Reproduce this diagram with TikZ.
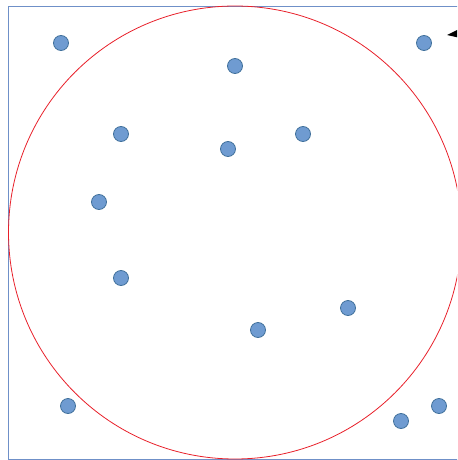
\documentclass[tikz,border=0pt]{standalone}
\definecolor{dotfill}{HTML}{6F9BD1}
\definecolor{dotline}{HTML}{41719C}
\definecolor{boxline}{HTML}{6F90C8}
\definecolor{ringline}{HTML}{E8202A}
\begin{document}
\begin{tikzpicture}[x=0.75pt,y=-0.75pt,
  dot/.style={circle,fill=dotfill,draw=dotline,line width=0.6pt,minimum size=11.25pt,inner sep=0pt}]
\useasboundingbox (0,0) rectangle (457,460);
\begin{scope}
\clip (0,0) rectangle (457,460);
\draw[boxline,line width=0.6pt] (8,6) rectangle (462,459);
\draw[ringline,line width=0.6pt] (235,232.5) circle[radius=226.5*0.75pt];
\fill[black] (447,35) -- (458,29.5) -- (458,37.5) -- cycle;
\end{scope}
\node[dot] (p1) at (61,43) {};
\node[dot] (p2) at (235,66) {};
\node[dot] (p3) at (424,43) {};
\node[dot] (p4) at (121,134) {};
\node[dot] (p5) at (228,149) {};
\node[dot] (p6) at (303,134) {};
\node[dot] (p7) at (99,202) {};
\node[dot] (p8) at (121,278) {};
\node[dot] (p9) at (258,330) {};
\node[dot] (p10) at (348,308) {};
\node[dot] (p11) at (68,406) {};
\node[dot] (p12) at (401,421) {};
\node[dot] (p13) at (439,406) {};
\end{tikzpicture}
\end{document}
